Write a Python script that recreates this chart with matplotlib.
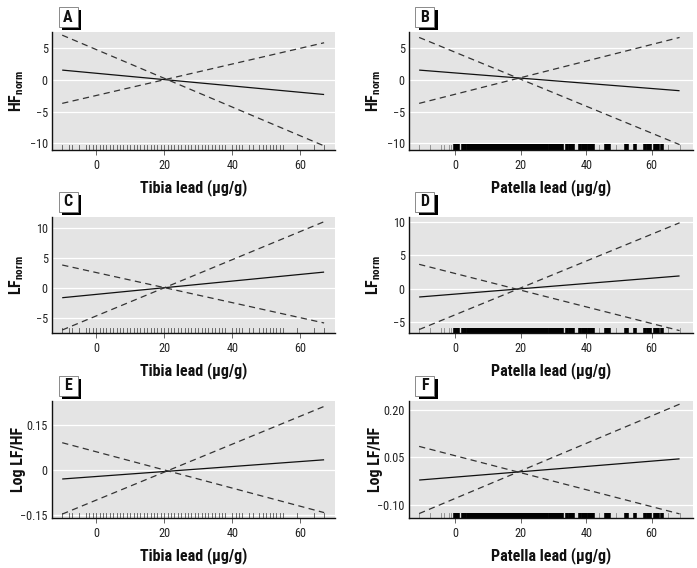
import matplotlib
matplotlib.use("Agg")
import matplotlib.pyplot as plt
from matplotlib import font_manager as fm
from matplotlib.patches import Rectangle
import matplotlib.transforms as mtransforms

# ---------------- data ----------------
tibia_x = [-10, 67]
patella_x = [-11, 68.5]

# panel A: HFnorm vs tibia
hf_tibia_fit = [1.58, -2.28]
hf_tibia_dash_rise = [-3.68, 5.9]
hf_tibia_dash_fall = [7.1, -10.4]
# panel B: HFnorm vs patella
hf_patella_fit = [1.58, -1.68]
hf_patella_dash_rise = [-3.68, 6.74]
hf_patella_dash_fall = [6.74, -10.2]
# panel C: LFnorm vs tibia
lf_tibia_fit = [-1.67, 2.6]
lf_tibia_dash_rise = [-7.05, 11.0]
lf_tibia_dash_fall = [3.78, -5.88]
# panel D: LFnorm vs patella
lf_patella_fit = [-1.24, 1.9]
lf_patella_dash_rise = [-6.09, 9.82]
lf_patella_dash_fall = [3.63, -6.25]
# panel E: log LF/HF vs tibia
lr_tibia_fit = [-0.030, 0.034]
lr_tibia_dash_rise = [-0.147, 0.212]
lr_tibia_dash_fall = [0.091, -0.142]
# panel F: log LF/HF vs patella
lr_patella_fit = [-0.022, 0.045]
lr_patella_dash_rise = [-0.128, 0.218]
lr_patella_dash_fall = [0.0844, -0.129]

# rug observations
tibia_rug = [-10, -8, -7, -5, -3, -2, -1, 0, 1, 2, 3, 4, 5, 6, 7, 8, 9, 10,
             11, 12, 13, 14, 15, 16, 17, 18, 19, 20, 21, 22, 23, 24, 25, 26,
             27, 28, 29, 30, 31, 32, 33, 34, 35, 36, 37, 38, 40, 41, 42, 43,
             45, 46, 48, 49, 50, 51, 52, 53, 54, 55, 59, 64, 67]
patella_rug_sparse = [-11, -7.7, -4.2, -3.4, -1.8, -1.4, 44, 49, 65, 68.5]
patella_rug_dense = [0, 0.5, 1, 2.3, 3, 4, 4.5, 5, 5.5, 6, 6.5,
                     7, 7.5, 8, 8.5, 9, 9.5, 10, 10.5, 11, 11.5, 12, 12.5,
                     13, 13.5, 14, 14.5, 15, 15.5, 16, 16.5, 17, 17.5, 18,
                     18.5, 19, 19.5, 20, 20.5, 21, 21.5, 22, 22.5, 23, 23.5,
                     24, 24.5, 25, 25.5, 26, 26.5, 27, 27.5, 28,
                     29, 29.5, 30, 30.5, 31, 31.5, 32, 32.5, 34, 35, 35.5, 36,
                     38, 39, 39.5, 40, 41, 41.5, 42, 46, 46.5, 47, 52, 52.3,
                     55, 58, 59, 59.5, 61, 61.5, 62, 63]

xticks = [0, 20, 40, 60]
hf_yticks = [-10, -5, 0, 5]
hf_yticklabels = ["\u221210", "\u22125", "0", "5"]
lf_yticks = [-5, 0, 5, 10]
lf_yticklabels = ["\u22125", "0", "5", "10"]
lrt_yticks = [-0.15, 0, 0.15]
lrt_yticklabels = ["\u22120.15", "0", "0.15"]
lrp_yticks = [-0.10, 0.05, 0.20]
lrp_yticklabels = ["\u22120.10", "0.05", "0.20"]

tibia_label = "Tibia lead (\u03bcg/g)"
patella_label = "Patella lead (\u03bcg/g)"
hf_label = r"HF$_{\mathregular{norm}}$"
lf_label = r"LF$_{\mathregular{norm}}$"
lr_label = "Log LF/HF"

# ---------------- fonts ----------------
names = {f.name for f in fm.fontManager.ttflist}
FONT = "Liberation Sans"
for cand in ["Liberation Sans Narrow", "DejaVu Sans Condensed", "Roboto Condensed"]:
    if cand in names:
        FONT = cand
        break
plt.rcParams["font.family"] = [FONT, "DejaVu Sans"]

W, H = 697, 568
fig = plt.figure(figsize=(W / 100, H / 100), dpi=100)

cols = [(52, 283), (409, 284)]
rows = [(32, 150), (216.7, 333.3), (401, 518.3)]

BG = "#e4e4e4"

panels = [
    ("A", tibia_x, hf_tibia_fit, hf_tibia_dash_rise, hf_tibia_dash_fall, (-13, 70.2), (-11.05, 7.6),
     hf_yticks, hf_yticklabels, hf_label, tibia_label, "tibia"),
    ("B", patella_x, hf_patella_fit, hf_patella_dash_rise, hf_patella_dash_fall, (-14.1, 72.6), (-11.05, 7.6),
     hf_yticks, hf_yticklabels, hf_label, patella_label, "patella"),
    ("C", tibia_x, lf_tibia_fit, lf_tibia_dash_rise, lf_tibia_dash_fall, (-13, 70.2), (-7.6, 11.83),
     lf_yticks, lf_yticklabels, lf_label, tibia_label, "tibia"),
    ("D", patella_x, lf_patella_fit, lf_patella_dash_rise, lf_patella_dash_fall, (-14.1, 72.6), (-6.65, 10.73),
     lf_yticks, lf_yticklabels, lf_label, patella_label, "patella"),
    ("E", tibia_x, lr_tibia_fit, lr_tibia_dash_rise, lr_tibia_dash_fall, (-13, 70.2), (-0.161, 0.23),
     lrt_yticks, lrt_yticklabels, lr_label, tibia_label, "tibia"),
    ("F", patella_x, lr_patella_fit, lr_patella_dash_rise, lr_patella_dash_fall, (-14.1, 72.6), (-0.143, 0.228),
     lrp_yticks, lrp_yticklabels, lr_label, patella_label, "patella"),
]

for i, (letter, xs, fit, d1, d2, xlim, ylim, yt, ytl, ylab, xlab, rugtype) in enumerate(panels):
    r, c = divmod(i, 2)
    left, width = cols[c]
    top, bottom = rows[r]
    ax = fig.add_axes([left / W, 1 - bottom / H, width / W, (bottom - top) / H])
    ax.set_facecolor(BG)
    ax.set_xlim(*xlim)
    ax.set_ylim(*ylim)
    for s in ["top", "right"]:
        ax.spines[s].set_visible(False)
    for s in ["left", "bottom"]:
        ax.spines[s].set_color("#111111")
        ax.spines[s].set_linewidth(1.0)
    ax.set_yticks(yt)
    ax.set_yticklabels(ytl)
    ax.set_xticks(xticks)
    ax.yaxis.grid(True, color="white", lw=0.9)
    ax.set_axisbelow(True)
    ax.tick_params(axis="x", direction="out", length=3.5, width=0.7, color="#666666",
                   labelsize=8.8, pad=3, labelcolor="#222222")
    ax.tick_params(axis="y", length=0, labelsize=8.8, pad=3, labelcolor="#222222")

    ax.plot(xs, fit, color="#111111", lw=0.9, solid_capstyle="butt", zorder=3)
    ax.plot(xs, d1, color="#333333", lw=0.9, linestyle=(0, (5, 3.5)), zorder=3)
    ax.plot(xs, d2, color="#333333", lw=0.9, linestyle=(0, (5, 3.5)), zorder=3)

    trans = mtransforms.blended_transform_factory(ax.transData, ax.transAxes)
    if rugtype == "tibia":
        for v in tibia_rug:
            ax.plot([v, v], [0, 0.045], color="#555555", lw=0.6, transform=trans,
                    zorder=2, clip_on=False)
    else:
        for v in patella_rug_sparse:
            ax.plot([v, v], [0, 0.045], color="#888888", lw=0.6, transform=trans,
                    zorder=2, clip_on=False)
        for v in patella_rug_dense:
            ax.plot([v, v], [0, 0.048], color="black", lw=2.6, transform=trans,
                    zorder=2, clip_on=False, solid_capstyle="butt")

    ax.set_xlabel(xlab, fontsize=11.5, fontweight="bold", color="#111111")
    ax.xaxis.set_label_coords(0.5, -0.245)
    ax.set_ylabel(ylab, fontsize=11.5, fontweight="bold", color="#111111")
    ax.yaxis.set_label_coords(-0.092, 0.5)

    # panel letter box with drop shadow
    bx0 = left + 6.5
    by0 = top - 25
    bw, bh = 19, 20
    sh = 3
    fig.patches.append(Rectangle(((bx0 + sh) / W, 1 - (by0 + bh + sh) / H), bw / W, bh / H,
                                 transform=fig.transFigure, facecolor="black",
                                 edgecolor="none", zorder=5))
    fig.patches.append(Rectangle((bx0 / W, 1 - (by0 + bh) / H), bw / W, bh / H,
                                 transform=fig.transFigure, facecolor="white",
                                 edgecolor="#777777", lw=0.6, zorder=6))
    fig.text((bx0 + bw / 2) / W, 1 - (by0 + bh / 2) / H, letter, ha="center", va="center",
             fontsize=11.5, fontweight="bold", color="#111111", zorder=7)

fig.savefig("out.png", dpi=100, facecolor="white")
